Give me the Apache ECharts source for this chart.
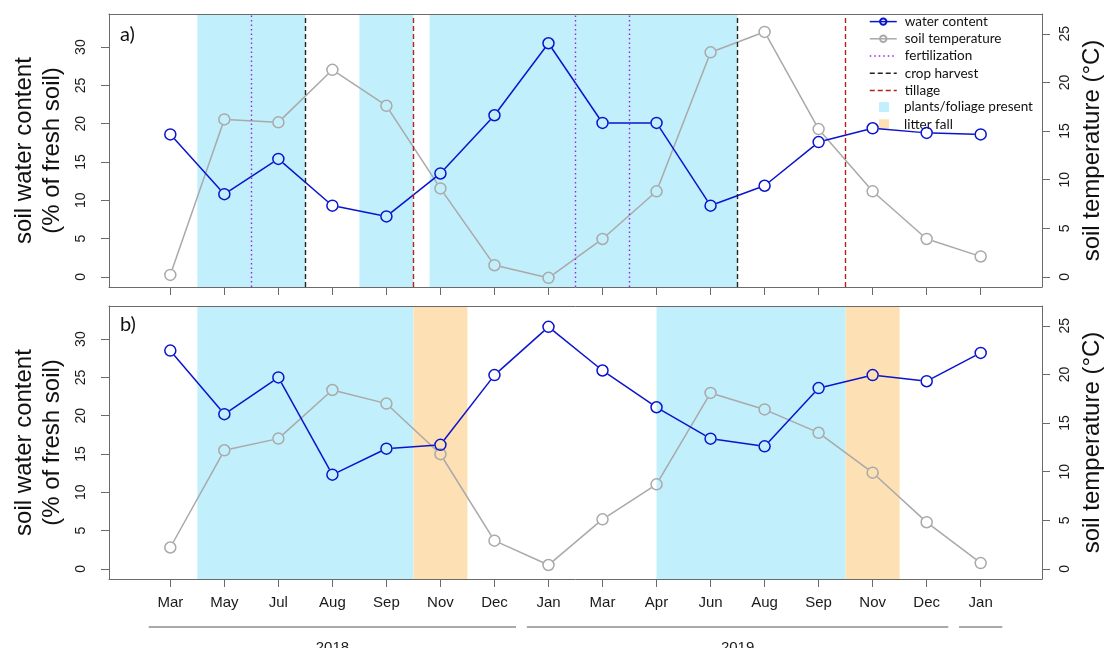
<!DOCTYPE html>
<html>
<head>
<meta charset="utf-8">
<script src="https://cdn.jsdelivr.net/npm/echarts@6/dist/echarts.min.js"></script>
<style>
  html, body { margin: 0; padding: 0; background: #fff; }
  #chart { width: 1104px; height: 648px; }
</style>
</head>
<body>
<div id="chart"></div>
<script>
// Sampling dates (one point per sampling campaign)
const months = ['Mar', 'May', 'Jul', 'Aug', 'Sep', 'Nov', 'Dec', 'Jan', 'Mar', 'Apr', 'Jun', 'Aug', 'Sep', 'Nov', 'Dec', 'Jan'];

// Panel a) values
const waterA = [18.6, 10.8, 15.4, 9.3, 7.9, 13.5, 21.1, 30.5, 20.1, 20.1, 9.3, 11.9, 17.6, 19.4, 18.8, 18.6];
const tempA  = [0.2, 16.2, 15.9, 21.3, 17.6, 9.1, 1.2, -0.1, 3.9, 8.8, 23.1, 25.2, 15.2, 8.8, 3.9, 2.1];

// Panel b) values
const waterB = [28.5, 20.2, 25.0, 12.3, 15.7, 16.2, 25.3, 31.6, 25.9, 21.1, 17.0, 16.0, 23.6, 25.3, 24.5, 28.2];
const tempB  = [2.2, 12.2, 13.4, 18.4, 17.0, 11.8, 2.9, 0.4, 5.1, 8.7, 18.1, 16.4, 14.0, 9.9, 4.8, 0.6];

// Management events (positions between sampling dates)
const fertilizationA = [2.5, 8.5, 9.5];
const harvestA = [3.5, 11.5];
const tillageA = [5.5, 13.5];
const foliageA = [[1.5, 3.5], [4.5, 5.5], [5.8, 11.5]];
const foliageB = [[1.5, 5.5], [10, 13.5]];
const litterB = [[5.5, 6.5], [13.5, 14.5]];

// Year groups: label, first and last sampling index
const years = [['2018', 1, 7], ['2019', 8, 15], ['', 16, 16]];

// Tick values
const waterTicks = [0, 5, 10, 15, 20, 25, 30];
const tempTicks = [0, 5, 10, 15, 20, 25];
const xTicks = months.map((m, i) => i + 1);

const WATER_MIN = -1.32, WATER_MAX = 34.32;
const TEMP_MIN = -1.04, TEMP_MAX = 27.04;
const X_MIN = -0.135, X_MAX = 17.135;

const BLUE = '#0a14cc';
const GREY = '#a9a9a9';
const LBLUE = '#c2effc';
const ORANGE = '#fde1b4';
const PURPLE = '#a020f0';
const DARKRED = '#b22222';
const BLACK = '#222222';
const AXIS = '#6a6a6a';
const SANS = '"Liberation Sans", Arial, sans-serif';
const HUMAN = 'Lato, "Open Sans", sans-serif';

const chart = echarts.init(document.getElementById('chart'), null, { renderer: 'canvas' });

function xBottom(grid, withLabels) {
  return {
    type: 'value', gridIndex: grid, min: X_MIN, max: X_MAX, position: 'bottom', z: 6,
    axisLine: { show: true, onZero: false, lineStyle: { color: AXIS, width: 1 } },
    axisTick: { show: true, inside: false, length: 8, customValues: xTicks, lineStyle: { color: AXIS } },
    axisLabel: {
      show: withLabels, customValues: xTicks, margin: 16,
      formatter: v => months[Math.round(v) - 1] || '',
      fontFamily: SANS, fontSize: 15, color: '#1a1a1a'
    },
    splitLine: { show: false }
  };
}
function xTop(grid) {
  return {
    type: 'value', gridIndex: grid, min: X_MIN, max: X_MAX, position: 'top', z: 6,
    axisLine: { show: true, onZero: false, lineStyle: { color: AXIS, width: 1 } },
    axisTick: { show: false }, axisLabel: { show: false }, splitLine: { show: false }
  };
}
function yWater(grid) {
  return {
    type: 'value', gridIndex: grid, min: WATER_MIN, max: WATER_MAX, position: 'left', z: 6,
    name: 'soil water content\n(% of fresh soil)', nameLocation: 'middle', nameRotate: 90, nameGap: 42,
    nameTextStyle: { fontFamily: SANS, fontSize: 24, lineHeight: 28, color: '#111' },
    axisLine: { show: true, onZero: false, lineStyle: { color: AXIS, width: 1 } },
    axisTick: { show: true, length: 8, customValues: waterTicks, lineStyle: { color: AXIS } },
    axisLabel: { customValues: waterTicks, rotate: 90, margin: 21, fontFamily: SANS, fontSize: 14, color: '#1a1a1a' },
    splitLine: { show: false }
  };
}
function yTemp(grid) {
  return {
    type: 'value', gridIndex: grid, min: TEMP_MIN, max: TEMP_MAX, position: 'right', z: 6,
    name: 'soil temperature (°C)', nameLocation: 'middle', nameRotate: 90, nameGap: 34,
    nameTextStyle: { fontFamily: SANS, fontSize: 24, color: '#111' },
    axisLine: { show: true, onZero: false, lineStyle: { color: AXIS, width: 1 } },
    axisTick: { show: true, length: 8, customValues: tempTicks, lineStyle: { color: AXIS } },
    axisLabel: { customValues: tempTicks, rotate: 90, margin: 16, fontFamily: SANS, fontSize: 14, color: '#1a1a1a' },
    splitLine: { show: false }
  };
}

// Segments between consecutive points, shortened so the line stops at the circle edge
function segments(vals) {
  return vals.slice(0, -1).map((v, i) => [i + 1, v, i + 2, vals[i + 1]]);
}
function gapRenderer(color) {
  return function (params, api) {
    const a = api.coord([api.value(0), api.value(1)]);
    const b = api.coord([api.value(2), api.value(3)]);
    const dx = b[0] - a[0], dy = b[1] - a[1];
    const len = Math.hypot(dx, dy);
    const r = 6;
    if (len <= 2 * r) return null;
    const ux = dx / len, uy = dy / len;
    return {
      type: 'line',
      shape: { x1: a[0] + ux * r, y1: a[1] + uy * r, x2: b[0] - ux * r, y2: b[1] - uy * r },
      style: { stroke: color, lineWidth: 1.5 }
    };
  };
}

function dataSeries(name, vals, color, xi, yi) {
  return [
    {
      type: 'custom', xAxisIndex: xi, yAxisIndex: yi, silent: true, z: 4,
      data: segments(vals), encode: { x: [0, 2], y: [1, 3] },
      renderItem: gapRenderer(color)
    },
    {
      name: name, type: 'line', xAxisIndex: xi, yAxisIndex: yi, silent: true, z: 5,
      data: vals.map((v, i) => [i + 1, v]),
      symbol: 'circle', symbolSize: 11, showAllSymbol: true,
      itemStyle: { color: 'transparent', borderColor: color, borderWidth: 1.5 },
      lineStyle: { color: color, width: 1.5, opacity: 0 }
    }
  ];
}

function eventSeries(name, xs, color, dash, xi, yi) {
  return {
    name: name, type: 'line', xAxisIndex: xi, yAxisIndex: yi, data: [], z: 3,
    symbol: 'none',
    itemStyle: { color: 'transparent', borderWidth: 0 },
    lineStyle: { color: color, width: 1.4, type: dash },
    markLine: {
      silent: true, symbol: ['none', 'none'], label: { show: false },
      lineStyle: { color: color, width: 1.4, type: dash },
      emphasis: { disabled: true },
      data: xs.map(x => ({ xAxis: x }))
    }
  };
}

function shadeSeries(name, spans, color, xi, yi) {
  return {
    name: name, type: 'line', xAxisIndex: xi, yAxisIndex: yi, data: [], z: 1,
    symbol: 'none',
    itemStyle: { color: color },
    lineStyle: { opacity: 0 },
    markArea: {
      silent: true, itemStyle: { color: color, opacity: 1 },
      emphasis: { disabled: true },
      data: spans.map(([a, b]) => [{ xAxis: a }, { xAxis: b }])
    }
  };
}

const yearSeries = {
  type: 'custom', xAxisIndex: 2, yAxisIndex: 2, silent: true, clip: false, z: 6,
  data: years.map(y => [y[1], y[2]]),
  renderItem: function (params, api) {
    const label = years[params.dataIndex][0];
    const a = api.coord([api.value(0) - 0.4, WATER_MIN]);
    const b = api.coord([api.value(1) + 0.4, WATER_MIN]);
    const y = a[1] + 48;
    return {
      type: 'group',
      children: [
        { type: 'line', shape: { x1: a[0], y1: y, x2: b[0], y2: y }, style: { stroke: '#555', lineWidth: 1.2 } },
        { type: 'text', style: { text: label, x: (a[0] + b[0]) / 2, y: y + 13, align: 'center', verticalAlign: 'top', font: '15px "Liberation Sans", Arial, sans-serif', fill: '#1a1a1a' } }
      ]
    };
  }
};

const option = {
  animation: false,
  backgroundColor: '#ffffff',
  title: [
    { text: 'a)', left: 120, top: 25, padding: 0, textStyle: { fontFamily: HUMAN, fontSize: 20, fontWeight: 'normal', color: '#111', lineHeight: 20 } },
    { text: 'b)', left: 120, top: 315, padding: 0, textStyle: { fontFamily: HUMAN, fontSize: 20, fontWeight: 'normal', color: '#111', lineHeight: 20 } }
  ],
  grid: [
    { left: 109, top: 14, width: 933, height: 273, outerBoundsMode: 'none', containLabel: false },
    { left: 109, top: 306, width: 933, height: 273, outerBoundsMode: 'none', containLabel: false }
  ],
  legend: [
    {
      orient: 'vertical', left: 869, top: 13, padding: 0, itemGap: 0,
      itemWidth: 27, itemHeight: 8, selectedMode: false,
      data: ['water content', 'soil temperature', 'fertilization', 'crop harvest', 'tillage'],
      lineStyle: { opacity: 1, width: 1.5 },
      textStyle: { fontFamily: HUMAN, fontSize: 13.5, color: '#111', lineHeight: 17.2, padding: [0, 0, 0, 3] }
    },
    {
      orient: 'vertical', left: 879, top: 98.5, padding: 0, itemGap: 0,
      itemWidth: 10, itemHeight: 10, selectedMode: false, icon: 'rect',
      data: ['plants/foliage present', 'litter fall'],
      textStyle: { fontFamily: HUMAN, fontSize: 13.5, color: '#111', lineHeight: 17.2, padding: [0, 0, 0, 10] }
    }
  ],
  xAxis: [xBottom(0, false), xTop(0), xBottom(1, true), xTop(1)],
  yAxis: [yWater(0), yTemp(0), yWater(1), yTemp(1)],
  series: [
    // panel a)
    shadeSeries('plants/foliage present', foliageA, LBLUE, 0, 0),
    eventSeries('fertilization', fertilizationA, PURPLE, [1.5, 3], 0, 0),
    eventSeries('crop harvest', harvestA, BLACK, [5, 3], 0, 0),
    eventSeries('tillage', tillageA, DARKRED, [5, 3], 0, 0),
    ...dataSeries('soil temperature', tempA, GREY, 0, 1),
    ...dataSeries('water content', waterA, BLUE, 0, 0),
    // panel b)
    shadeSeries('plants/foliage present', foliageB, LBLUE, 2, 2),
    shadeSeries('litter fall', litterB, ORANGE, 2, 2),
    ...dataSeries('soil temperature', tempB, GREY, 2, 3),
    ...dataSeries('water content', waterB, BLUE, 2, 2),
    yearSeries
  ]
};

chart.setOption(option);
</script>
</body>
</html>
